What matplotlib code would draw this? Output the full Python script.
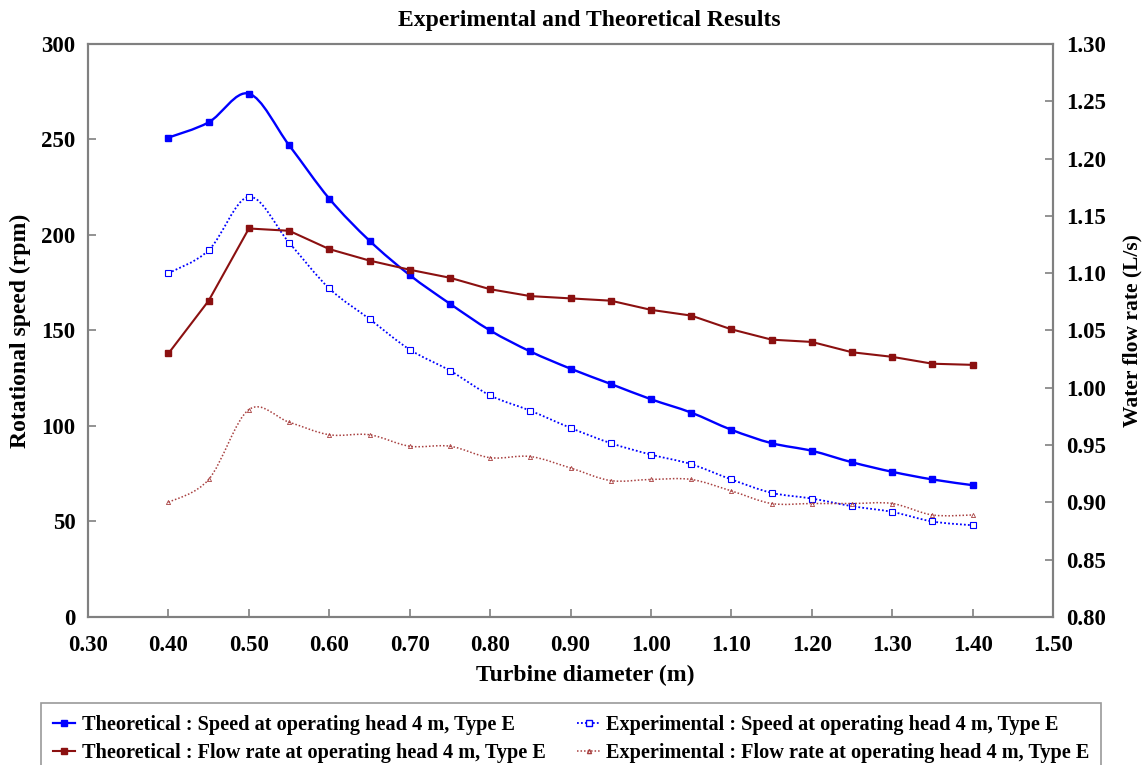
import matplotlib
matplotlib.use("Agg")
import matplotlib.pyplot as plt
import numpy as np
from matplotlib.path import Path
from matplotlib.patches import PathPatch
from matplotlib.lines import Line2D

plt.rcParams['font.family'] = ['Liberation Serif', 'DejaVu Serif']
plt.rcParams['font.weight'] = 'bold'

# data
diameter = [0.40, 0.45, 0.50, 0.55, 0.60, 0.65, 0.70, 0.75, 0.80, 0.85, 0.90,
            0.95, 1.00, 1.05, 1.10, 1.15, 1.20, 1.25, 1.30, 1.35, 1.40]
speed_theo = [251, 259, 274, 247, 219, 197, 179, 164, 150, 139, 130,
              122, 114, 107, 98, 91, 87, 81, 76, 72, 69]
speed_exp = [180, 192, 220, 196, 172, 156, 140, 129, 116, 108, 99,
             91, 85, 80, 72, 65, 62, 58, 55, 50, 48]
flow_theo = [1.030, 1.076, 1.139, 1.137, 1.121, 1.111, 1.103, 1.096, 1.086, 1.080, 1.078,
             1.076, 1.068, 1.063, 1.051, 1.042, 1.040, 1.031, 1.027, 1.021, 1.020]
flow_exp = [0.900, 0.920, 0.981, 0.970, 0.959, 0.959, 0.949, 0.949, 0.939, 0.940, 0.930,
            0.919, 0.920, 0.920, 0.910, 0.899, 0.899, 0.899, 0.899, 0.889, 0.889]

x_ticks = np.arange(0.30, 1.501, 0.10)
left_ticks = np.arange(0, 301, 50)
right_ticks = np.arange(0.80, 1.301, 0.05)

blue = '#0000FF'
red = '#8B1010'
red_light = '#A84040'
grey = '#808080'


def smooth_path(x, y):
    # excel style smoothed line: bezier between points
    x = np.asarray(x, float)
    y = np.asarray(y, float)
    n = len(x)
    verts = [(x[0], y[0])]
    codes = [Path.MOVETO]
    for i in range(n - 1):
        p0 = np.array([x[max(i - 1, 0)], y[max(i - 1, 0)]])
        p1 = np.array([x[i], y[i]])
        p2 = np.array([x[i + 1], y[i + 1]])
        p3 = np.array([x[min(i + 2, n - 1)], y[min(i + 2, n - 1)]])
        c1 = p1 + (p2 - p0) / 6.0
        c2 = p2 - (p3 - p1) / 6.0
        verts += [tuple(c1), tuple(c2), tuple(p2)]
        codes += [Path.CURVE4] * 3
    return Path(verts, codes)


fig = plt.figure(figsize=(11.45, 7.65), dpi=100)
ax = fig.add_axes([0.0769, 0.1935, 0.8428, 0.749])
ax2 = ax.twinx()

# speed (left axis)
ax.add_patch(PathPatch(smooth_path(diameter, speed_theo), fill=False,
                       edgecolor=blue, lw=1.7, zorder=3))
ax.plot(diameter, speed_theo, ls='none', marker='s', ms=4.5, color=blue, zorder=4)
ax.add_patch(PathPatch(smooth_path(diameter, speed_exp), fill=False,
                       edgecolor=blue, lw=1.3, ls=(0, (1, 1.2)), zorder=3))
ax.plot(diameter, speed_exp, ls='none', marker='s', ms=4.5, mfc='white',
        mec=blue, mew=0.8, zorder=4)

# flow rate (right axis)
ax2.plot(diameter, flow_theo, color=red, lw=1.5, marker='s', ms=4, zorder=3)
ax2.add_patch(PathPatch(smooth_path(diameter, flow_exp), fill=False,
                        edgecolor=red_light, lw=1.1, ls=(0, (1, 1.3)), zorder=3))
ax2.plot(diameter, flow_exp, ls='none', marker='^', ms=3, mfc='none',
         mec=red_light, mew=0.6, zorder=4)

ax.set_xlim(0.30, 1.50)
ax.set_ylim(0, 300)
ax2.set_ylim(0.80, 1.30)
ax.set_xticks(x_ticks)
ax.set_xticklabels(['%.2f' % v for v in x_ticks])
ax.set_yticks(left_ticks)
ax2.set_yticks(right_ticks)
ax2.set_yticklabels(['%.2f' % v for v in right_ticks])

for a in (ax, ax2):
    for s in a.spines.values():
        s.set_color(grey)
        s.set_linewidth(1.5)
    a.tick_params(direction='in', length=6, width=1.2, color=grey,
                  labelsize=16.5)
ax.tick_params(axis='x', pad=13)
ax.tick_params(axis='y', pad=9)
ax2.tick_params(axis='y', pad=9.5)

ax.set_xlabel('Turbine diameter (m)', fontsize=17, fontweight='bold')
ax.xaxis.set_label_coords(0.515, -0.084)
ax.set_ylabel('Rotational speed (rpm)', fontsize=17, fontweight='bold')
ax.yaxis.set_label_coords(-0.059, 0.5)
ax2.set_ylabel('Water flow rate (L/s)', fontsize=15.5, fontweight='bold',
               rotation=90)
ax2.yaxis.set_label_coords(1.0715, 0.5)
ax.set_title('Experimental and Theoretical Results', fontsize=17,
             fontweight='bold', x=0.519, y=1.031, pad=0)

handles = [
    Line2D([], [], color=blue, lw=1.6, marker='s', ms=4.5),
    Line2D([], [], color=red, lw=1.5, marker='s', ms=4),
    Line2D([], [], color=blue, lw=1.3, ls=(0, (1, 1.2)), marker='s', ms=4.5,
           mfc='white', mec=blue),
    Line2D([], [], color=red_light, lw=1.1, ls=(0, (1, 1.3)), marker='^', ms=3,
           mfc='none', mec=red_light),
]
labels = [
    'Theoretical : Speed at operating head 4 m, Type E',
    'Theoretical : Flow rate at operating head 4 m, Type E',
    'Experimental : Speed at operating head 4 m, Type E',
    'Experimental : Flow rate at operating head 4 m, Type E',
]
leg = fig.legend(handles, labels, ncol=2, loc='upper left',
                 bbox_to_anchor=(0.0358, 0.081), borderaxespad=0,
                 fontsize=14.6, frameon=True, fancybox=False,
                 handlelength=1.1, handletextpad=0.3, columnspacing=1.58,
                 labelspacing=0.4, borderpad=0.6)
leg.get_frame().set_edgecolor(grey)
leg.get_frame().set_linewidth(1.2)

fig.savefig('out.png', dpi=100)
